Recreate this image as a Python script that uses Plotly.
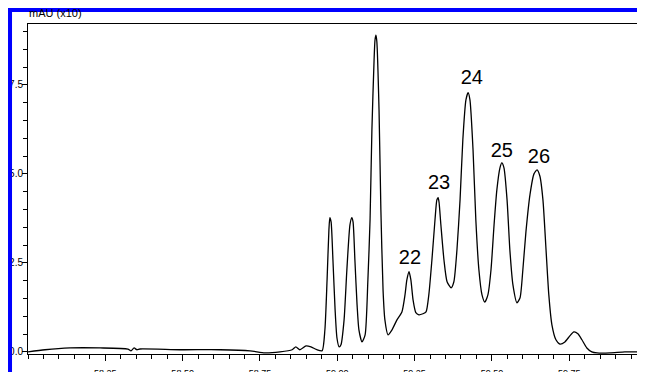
import plotly.graph_objects as go

# Chromatogram trace (time in min, signal in mAU x10)
time_min = [58.000, 58.055, 58.136, 58.233, 58.323, 58.333, 58.343, 58.352, 58.362, 58.491,
            58.621, 58.718, 58.766, 58.815, 58.854, 58.866, 58.879, 58.899, 58.915, 58.934,
            58.951,
            58.960, 58.967, 58.973, 58.976, 58.980, 58.986, 58.993, 58.999, 59.006,
            59.012, 59.022, 59.031, 59.041, 59.047, 59.051, 59.057, 59.064, 59.070, 59.080,
            59.090, 59.099, 59.106, 59.112, 59.119, 59.122, 59.125, 59.128, 59.135, 59.141,
            59.148, 59.154, 59.164,
            59.177, 59.193, 59.209, 59.219, 59.225, 59.232, 59.238, 59.245, 59.254, 59.264,
            59.277, 59.287, 59.296, 59.306, 59.316, 59.322, 59.326, 59.329, 59.335, 59.345,
            59.355, 59.368, 59.377, 59.387, 59.397, 59.406, 59.416, 59.423, 59.429, 59.439,
            59.448, 59.458, 59.468, 59.477, 59.487, 59.497, 59.507, 59.516, 59.526, 59.532,
            59.539, 59.549, 59.558, 59.568, 59.581, 59.591, 59.600, 59.610, 59.623, 59.636,
            59.646, 59.655, 59.665, 59.675, 59.684, 59.694, 59.707, 59.720, 59.736, 59.752,
            59.765, 59.778, 59.791, 59.807, 59.823, 59.840, 59.882, 59.930, 59.995]
signal = [0.00, 0.06, 0.11, 0.11, 0.08, 0.03, 0.11, 0.06, 0.08, 0.06,
          0.06, 0.03, -0.03, 0.00, 0.06, 0.14, 0.06, 0.17, 0.14, 0.06,
          0.03,
          0.62, 2.02, 3.43, 3.77, 3.65, 2.58, 1.18, 0.39, 0.14,
          0.20, 0.90, 2.30, 3.57, 3.77, 3.65, 2.58, 1.32, 0.62, 0.28,
          0.48, 2.02, 3.71, 6.24, 8.20, 8.76, 8.90, 8.71, 6.80, 3.99,
          1.74, 0.90, 0.48,
          0.62, 0.90, 1.12, 1.60, 2.02, 2.25, 2.02, 1.46, 1.10, 1.04,
          1.07, 1.12, 1.60, 2.58, 3.71, 4.27, 4.33, 4.21, 3.57, 2.58,
          1.97, 1.80, 1.97, 2.87, 4.27, 5.96, 7.08, 7.28, 7.08, 5.67,
          3.71, 2.30, 1.60, 1.40, 1.60, 2.30, 3.57, 4.55, 5.17, 5.31,
          5.17, 4.27, 2.87, 1.88, 1.38, 1.52, 2.30, 3.37, 4.41, 5.00,
          5.11, 4.94, 4.27, 2.87, 1.60, 0.76, 0.34, 0.22, 0.28, 0.45,
          0.56, 0.51, 0.34, 0.11, 0.00, -0.03, -0.03, 0.00, 0.00]

# Peak labels
peak_labels = ["22", "23", "24", "25", "26"]
peak_label_x = [59.235, 59.329, 59.435, 59.532, 59.652]
peak_label_y = [2.61, 4.72, 7.67, 5.62, 5.45]

# Axis ticks
x_tickvals = [58.25, 58.50, 58.75, 59.00, 59.25, 59.50, 59.75]
x_ticktext = ["58.25", "58.50", "58.75", "59.00", "59.25", "59.50", "59.75"]
y_tickvals = [0.0, 2.5, 5.0, 7.5]
y_ticktext = ["0.0", "2.5", "5.0", "7.5"]

x_range = [58.0, 59.995]
y_range = [-0.06, 9.21]

FONT = "Arial, 'Liberation Sans', sans-serif"

fig = go.Figure()
fig.add_trace(go.Scatter(
    x=time_min, y=signal, mode="lines",
    line=dict(color="black", width=1.3, shape="spline", smoothing=0.6),
    hoverinfo="skip", showlegend=False,
))
fig.add_trace(go.Scatter(
    x=peak_label_x, y=peak_label_y, mode="text", text=peak_labels,
    textposition="middle center",
    textfont=dict(family=FONT, size=20, color="black"),
    cliponaxis=False, showlegend=False, hoverinfo="skip",
))

fig.update_layout(
    template="none",
    width=637, height=364,
    margin=dict(l=20, r=0, t=16, b=18, pad=0, autoexpand=False),
    paper_bgcolor="white", plot_bgcolor="white",
    font=dict(family=FONT, size=10, color="black"),
    xaxis=dict(
        range=x_range, showgrid=False, zeroline=False, automargin=False,
        showline=True, linecolor="black", linewidth=1, mirror=True,
        ticks="outside", ticklen=6, tickcolor="black", tickwidth=1,
        tickmode="array", tickvals=x_tickvals, ticktext=x_ticktext,
        tickfont=dict(family=FONT, size=9, color="black"),
        ticklabelstandoff=4,
        minor=dict(ticks="outside", tickmode="linear", dtick=0.05, tick0=58.0, ticklen=4,
                   tickcolor="black", showgrid=False),
    ),
    yaxis=dict(
        range=y_range, showgrid=False, zeroline=False, automargin=False,
        showline=True, linecolor="black", linewidth=1,
        ticks="outside", ticklen=5, tickcolor="black", tickwidth=1,
        tickmode="array", tickvals=y_tickvals, ticktext=y_ticktext,
        tickfont=dict(family=FONT, size=10, color="black"),
        ticklabelstandoff=-3,
        minor=dict(ticks="outside", tickmode="linear", dtick=0.5, tick0=0, ticklen=4,
                   tickcolor="black", showgrid=False),
    ),
    shapes=[
        # blue window frame
        dict(type="rect", xref="paper", yref="paper", x0=-0.0324, x1=1.02, y0=1.0364, y1=1.0485,
             fillcolor="#0000ff", line=dict(width=0), layer="above"),
        dict(type="rect", xref="paper", yref="paper", x0=-0.0324, x1=-0.0259, y0=-0.1, y1=1.0485,
             fillcolor="#0000ff", line=dict(width=0), layer="above"),
        dict(type="line", xref="paper", yref="paper", x0=0.9992, x1=0.9992, y0=-0.1, y1=1.0364,
             line=dict(color="#8c8cff", width=1), layer="above"),
    ],
    annotations=[
        dict(xref="paper", yref="paper", x=-0.002, y=1.033, text="mAU (x10)", showarrow=False,
             xanchor="left", yanchor="middle", font=dict(family=FONT, size=11, color="black")),
        dict(xref="paper", yref="paper", x=0.985, y=-0.045, text="min", showarrow=False,
             xanchor="center", yanchor="top", font=dict(family=FONT, size=9, color="#999999")),
    ],
)

fig.write_html("out.html")
